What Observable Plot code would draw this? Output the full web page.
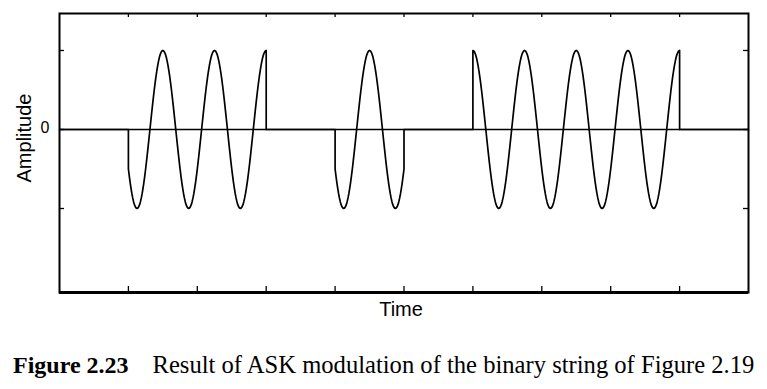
<!DOCTYPE html>
<html>
<head>
<meta charset="utf-8">
<script src="https://cdn.jsdelivr.net/npm/d3@7"></script>
<script src="https://cdn.jsdelivr.net/npm/@observablehq/plot@0.6"></script>
<style>
  html, body { margin: 0; padding: 0; background: #fff; }
  #wrap { position: relative; width: 767px; height: 389px; overflow: hidden; background: #fff; }
  #caption {
    position: absolute; left: 13px; top: 353px; white-space: nowrap;
    font-family: "Liberation Serif", "Times New Roman", serif; font-size: 24px; line-height: 24px; color: #000;
  }
  #caption b { font-weight: bold; }
  #caption span { margin-left: 24px; font-size: 24.6px; }
</style>
</head>
<body>
<div id="wrap"><div id="chart"></div>
<div id="caption"><b>Figure 2.23</b><span>Result of ASK modulation of the binary string of Figure 2.19</span></div>
</div>
<script>
// Binary string that is modulated (one value per bit period)
const bits = [0, 1, 1, 0, 1, 0, 1, 1, 1, 0];
// Carrier: cycles per bit period and amplitude
const cyclesPerBit = 4 / 3;
const carrierAmplitude = 1;
// Axis ticks
const xTicks = [1, 2, 3, 4, 5, 6, 7, 8, 9];
const yTicks = [-1, 0, 1];
const yTickLabels = [{ v: 0, label: "0" }];
const xLabel = "Time";
const yLabel = "Amplitude";
const xDomain = [0, bits.length];
const yDomain = [-2.063, 1.468];

// ASK signal: carrier switched on for 1-bits, off for 0-bits
const samplesPerBit = 80;
const samples = [];
bits.forEach((b, i) => {
  for (let n = 0; n <= samplesPerBit; n++) {
    const t = i + n / samplesPerBit;
    samples.push({ t, v: b ? carrierAmplitude * Math.cos(2 * Math.PI * cyclesPerBit * t) : 0 });
  }
});

const W = 767, H = 330, mL = 59, mR = 19, mT = 13, mB = 38;
const innerW = W - mL - mR, innerH = H - mT - mB;

const chart = Plot.plot({
  width: W, height: H,
  marginLeft: mL, marginRight: mR, marginTop: mT, marginBottom: mB,
  x: { domain: xDomain, axis: null },
  y: { domain: yDomain, axis: null },
  style: { background: "white", color: "black", fontFamily: "'Liberation Sans', Arial, Helvetica, sans-serif" },
  marks: [
    Plot.ruleY([0], { stroke: "black", strokeWidth: 1.6 }),
    Plot.line(samples, { x: "t", y: "v", stroke: "black", strokeWidth: 1.7 }),
    Plot.ruleX(xTicks, { stroke: "black", strokeWidth: 1.3, insetTop: innerH - 6 }),
    Plot.ruleX(xTicks, { stroke: "black", strokeWidth: 1.3, insetBottom: innerH - 4 }),
    Plot.ruleY(yTicks, { stroke: "black", strokeWidth: 1.3, insetRight: innerW - 5 }),
    Plot.ruleY(yTicks, { stroke: "black", strokeWidth: 1.3, insetLeft: innerW - 5 }),
    Plot.frame({ stroke: "black", strokeWidth: 2 }),
    Plot.ruleY([yDomain[0]], { stroke: "black", strokeWidth: 3 }),
    Plot.text(yTickLabels, { x: () => xDomain[0], y: "v", text: "label", textAnchor: "end", dx: -10, dy: -2, fontSize: 16, fill: "black" }),
    Plot.text([yLabel], { text: d => d, frameAnchor: "left", textAnchor: "middle", dx: -35, dy: -15, rotate: -90, fontSize: 20, fill: "black" }),
    Plot.text([xLabel], { text: d => d, frameAnchor: "bottom", textAnchor: "middle", dy: 23, dx: -3, lineAnchor: "bottom", fontSize: 20, fill: "black" })
  ]
});
document.getElementById("chart").appendChild(chart);
</script>
</body>
</html>
